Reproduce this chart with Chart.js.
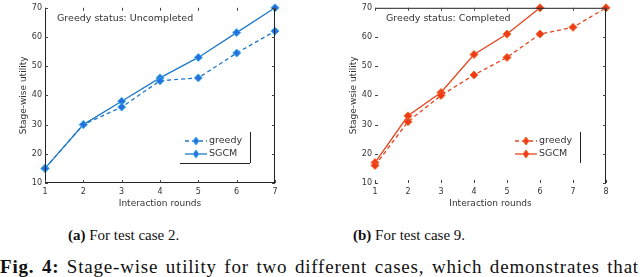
<!DOCTYPE html>
<html>
<head>
<meta charset="utf-8">
<script src="https://cdn.jsdelivr.net/npm/chart.js@4.4.1/dist/chart.umd.min.js"></script>
<style>
  body { margin: 0; background: #fff; width: 640px; height: 277px; overflow: hidden; position: relative; }
  .panel { position: absolute; top: 0; width: 320px; height: 220px; }
  .cap { position: absolute; font-family: "Liberation Serif", "Times New Roman", serif; font-size: 15px; color: #111; white-space: nowrap; }
</style>
</head>
<body>
<div class="panel" style="left:0"><canvas id="chartA" width="320" height="220"></canvas></div>
<div class="panel" style="left:320px"><canvas id="chartB" width="320" height="220"></canvas></div>
<div class="cap" style="left:68px; top:227px"><b>(a)</b> For test case 2.</div>
<div class="cap" style="left:353px; top:227px"><b>(b)</b> For test case 9.</div>
<div class="cap" style="left:0; top:256px; font-size:19px; letter-spacing:0.8px; word-spacing:2px"><b>Fig. 4:</b> Stage-wise utility for two different cases, which demonstrates that</div>

<script>
// test case 2
const roundsA = ["1", "2", "3", "4", "5", "6", "7"];
const greedyA = [15, 30, 36, 45, 46, 54.5, 62];
const sgcmA = [15, 30, 38, 46, 53, 61.5, 70];

// test case 9
const roundsB = ["1", "2", "3", "4", "5", "6", "7", "8"];
const greedyB = [16, 31, 40, 47, 53, 61, 63.3, 70];
const sgcmB = [17, 33, 41, 54, 61, 70];

const yTicks = [10, 20, 30, 40, 50, 60, 70];

const textColor = "#333";
const sans = "'DejaVu Sans', sans-serif";

// frame lines, inward ticks, note text and legend
const decor = {
    id: "decor",
    afterDraw(chart, args, opts) {
        const ctx = chart.ctx;
        const a = chart.chartArea;
        const xs = chart.scales.x;
        const ys = chart.scales.y;
        ctx.save();
        ctx.strokeStyle = "#222";
        ctx.lineWidth = 1;
        ctx.beginPath();
        if (opts.sides.includes("l")) { ctx.moveTo(a.left + 0.5, a.top); ctx.lineTo(a.left + 0.5, a.bottom); }
        if (opts.sides.includes("r")) { ctx.moveTo(a.right - 0.5, a.top); ctx.lineTo(a.right - 0.5, a.bottom); }
        if (opts.sides.includes("t")) { ctx.moveTo(a.left, a.top + 0.5); ctx.lineTo(a.right, a.top + 0.5); }
        if (opts.sides.includes("b")) { ctx.moveTo(a.left, a.bottom - 0.5); ctx.lineTo(a.right, a.bottom - 0.5); }
        ctx.stroke();

        // small inward ticks
        ctx.strokeStyle = "#444";
        ctx.beginPath();
        xs.ticks.forEach((t, i) => {
            const px = Math.round(xs.getPixelForTick(i)) + 0.5;
            ctx.moveTo(px, a.bottom); ctx.lineTo(px, a.bottom - 3);
            ctx.moveTo(px, a.top); ctx.lineTo(px, a.top + 3);
        });
        ys.ticks.forEach((t, i) => {
            const py = Math.round(ys.getPixelForTick(i)) + 0.5;
            ctx.moveTo(a.left, py); ctx.lineTo(a.left + 3, py);
            ctx.moveTo(a.right, py); ctx.lineTo(a.right - 3, py);
        });
        ctx.stroke();

        // note
        ctx.fillStyle = textColor;
        ctx.font = "9.5px " + sans;
        ctx.textBaseline = "middle";
        ctx.fillText(opts.note, opts.noteX, opts.noteY);

        // legend
        const lg = opts.legend;
        ctx.strokeStyle = "#222";
        ctx.beginPath();
        lg.frame.forEach(s => {
            if (s === "r") { ctx.moveTo(lg.x1 + 0.5, lg.y0); ctx.lineTo(lg.x1 + 0.5, lg.y1); }
            if (s === "b") { ctx.moveTo(lg.x0, lg.y1 + 0.5); ctx.lineTo(lg.x1, lg.y1 + 0.5); }
        });
        ctx.stroke();
        chart.data.datasets.forEach((ds, i) => {
            const y = lg.rowY[i];
            ctx.strokeStyle = ds.borderColor;
            ctx.lineWidth = 1.3;
            ctx.setLineDash(ds.borderDash || []);
            ctx.beginPath();
            ctx.moveTo(lg.sx0, y); ctx.lineTo(lg.sx1, y);
            ctx.stroke();
            ctx.setLineDash([]);
            const mx = (lg.sx0 + lg.sx1) / 2;
            ctx.fillStyle = ds.pointBackgroundColor;
            ctx.strokeStyle = ds.pointBorderColor;
            ctx.lineWidth = 1;
            ctx.beginPath();
            ctx.moveTo(mx, y - 4); ctx.lineTo(mx + 3, y); ctx.lineTo(mx, y + 4); ctx.lineTo(mx - 3, y);
            ctx.closePath();
            ctx.fill(); ctx.stroke();
            ctx.fillStyle = textColor;
            ctx.font = "9.5px " + sans;
            ctx.fillText(ds.label, lg.sx1 + 2, y);
        });
        ctx.restore();
    }
};

function makeChart(id, labels, greedy, sgcm, color, fill, edge, pad, decorOpts) {
    const ctx = document.getElementById(id).getContext("2d");
    return new Chart(ctx, {
        type: "line",
        data: {
            labels: labels,
            datasets: [
                {
                    label: "greedy",
                    data: greedy,
                    borderColor: color,
                    borderWidth: 1.3,
                    borderDash: [4, 3],
                    pointStyle: "rectRot",
                    pointRadius: 4,
                    pointBackgroundColor: fill,
                    pointBorderColor: edge,
                    pointBorderWidth: 1
                },
                {
                    label: "SGCM",
                    data: sgcm,
                    borderColor: color,
                    borderWidth: 1.3,
                    pointStyle: "rectRot",
                    pointRadius: 4,
                    pointBackgroundColor: fill,
                    pointBorderColor: edge,
                    pointBorderWidth: 1
                }
            ]
        },
        options: {
            responsive: false,
            animation: false,
            clip: false,
            layout: { padding: pad },
            plugins: {
                legend: { display: false },
                tooltip: { enabled: false },
                decor: decorOpts
            },
            scales: {
                x: {
                    offset: false,
                    grid: { display: false, drawTicks: false, tickLength: 0 },
                    border: { display: false },
                    ticks: { color: textColor, font: { family: sans, size: 8 }, padding: 4, maxRotation: 0 },
                    title: { display: true, text: "Interaction rounds", color: textColor, font: { family: sans, size: 9 }, padding: { top: 0, bottom: 0 } },
                    afterFit: s => { s.height = 26; }
                },
                y: {
                    min: 10,
                    max: 70,
                    grid: { display: false, drawTicks: false, tickLength: 0 },
                    border: { display: false },
                    afterBuildTicks: s => { s.ticks = yTicks.map(v => ({ value: v })); },
                    ticks: { color: textColor, font: { family: sans, size: 8 }, padding: 3 },
                    title: { display: true, text: decorOpts.yTitle, color: textColor, font: { family: sans, size: 9 }, padding: 0 },
                    afterFit: s => { s.width = decorOpts.yWidth; }
                }
            }
        },
        plugins: [decor]
    });
}

makeChart("chartA", roundsA, greedyA, sgcmA, "#1f78c8", "#2a6fe0", "#38b4e8",
    { top: 4, right: 45, bottom: 11, left: 18 },
    {
        sides: "lrb",
        yWidth: 27,
        yTitle: "Stage-wise utility",
        note: "Greedy status: Uncompleted", noteX: 57, noteY: 19,
        legend: { x0: 180, x1: 250, y0: 132, y1: 163, frame: ["r", "b"], sx0: 185, sx1: 207, rowY: [141, 154] }
    });

makeChart("chartB", roundsB, greedyB, sgcmB, "#e8431c", "#ee3a18", "#f06a2a",
    { top: 4, right: 34, bottom: 11, left: 28 },
    {
        sides: "tr",
        yWidth: 27,
        yTitle: "Stage-wsie utility",
        note: "Greedy status: Completed", noteX: 66, noteY: 19,
        legend: { x0: 190, x1: 260, y0: 132, y1: 163, frame: ["r"], sx0: 195, sx1: 217, rowY: [141, 154] }
    });
</script>
</body>
</html>
